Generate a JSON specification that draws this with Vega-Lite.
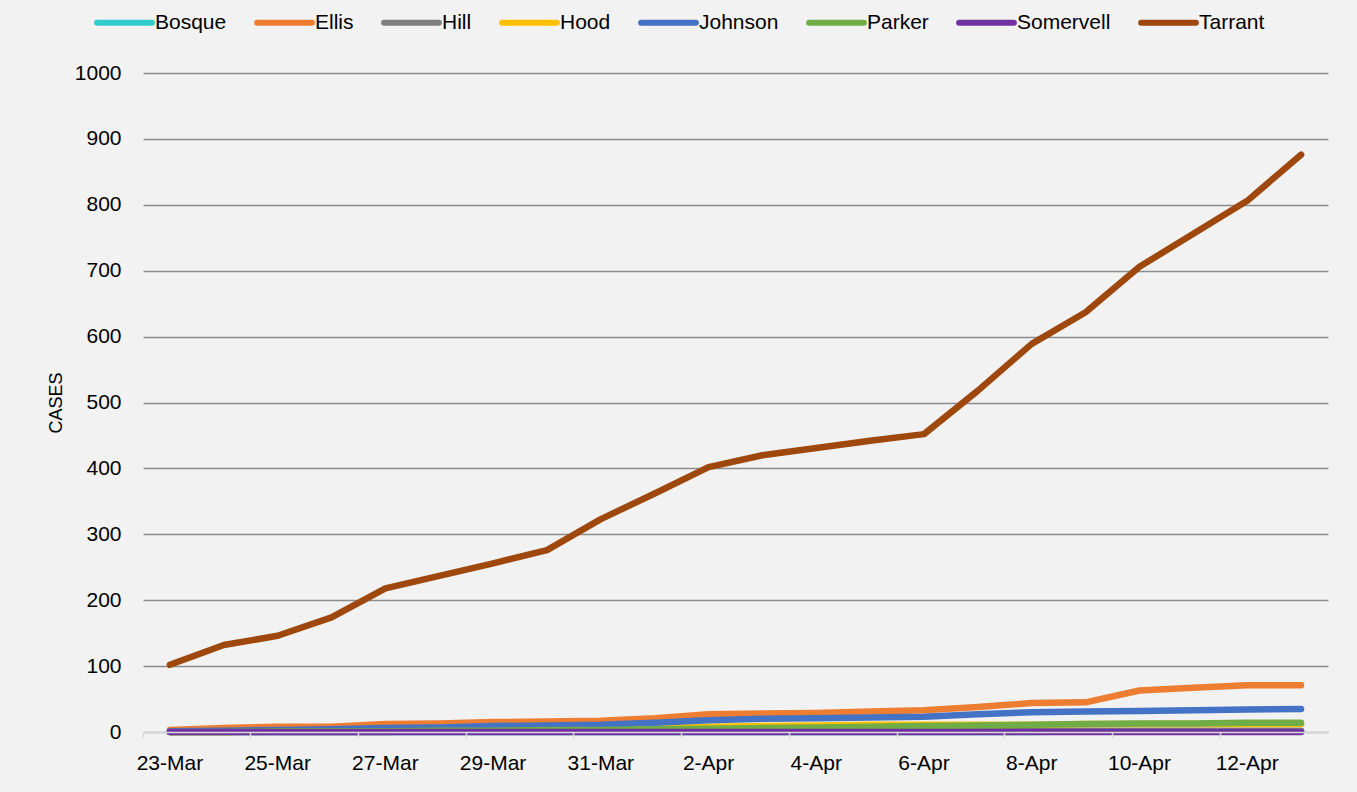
{
  "$schema": "https://vega.github.io/schema/vega-lite/v6.json",
  "autosize": "none",
  "width": 1185,
  "height": 659,
  "padding": {"left": 143, "top": 73, "right": 29, "bottom": 60},
  "background": "#f2f2f2",
  "config": {
    "view": {"stroke": null},
    "font": "Liberation Sans",
    "axis": {"labelFont": "Liberation Sans", "titleFont": "Liberation Sans", "labelColor": "#000000", "titleColor": "#000000"},
    "legend": {"labelFont": "Liberation Sans"}
  },
  "data": {
    "values": [
      {"d":"23-Mar","c":"Bosque","v":0},{"d":"24-Mar","c":"Bosque","v":0},{"d":"25-Mar","c":"Bosque","v":0},{"d":"26-Mar","c":"Bosque","v":0},{"d":"27-Mar","c":"Bosque","v":0},{"d":"28-Mar","c":"Bosque","v":0},{"d":"29-Mar","c":"Bosque","v":0},{"d":"30-Mar","c":"Bosque","v":0},{"d":"31-Mar","c":"Bosque","v":0},{"d":"1-Apr","c":"Bosque","v":0},{"d":"2-Apr","c":"Bosque","v":0},{"d":"3-Apr","c":"Bosque","v":0},{"d":"4-Apr","c":"Bosque","v":0},{"d":"5-Apr","c":"Bosque","v":0},{"d":"6-Apr","c":"Bosque","v":0},{"d":"7-Apr","c":"Bosque","v":0},{"d":"8-Apr","c":"Bosque","v":0},{"d":"9-Apr","c":"Bosque","v":1},{"d":"10-Apr","c":"Bosque","v":1},{"d":"11-Apr","c":"Bosque","v":1},{"d":"12-Apr","c":"Bosque","v":1},{"d":"13-Apr","c":"Bosque","v":1},
      {"d":"23-Mar","c":"Ellis","v":3},{"d":"24-Mar","c":"Ellis","v":6},{"d":"25-Mar","c":"Ellis","v":8},{"d":"26-Mar","c":"Ellis","v":8},{"d":"27-Mar","c":"Ellis","v":12},{"d":"28-Mar","c":"Ellis","v":13},{"d":"29-Mar","c":"Ellis","v":15},{"d":"30-Mar","c":"Ellis","v":16},{"d":"31-Mar","c":"Ellis","v":17},{"d":"1-Apr","c":"Ellis","v":21},{"d":"2-Apr","c":"Ellis","v":27},{"d":"3-Apr","c":"Ellis","v":28},{"d":"4-Apr","c":"Ellis","v":29},{"d":"5-Apr","c":"Ellis","v":31},{"d":"6-Apr","c":"Ellis","v":33},{"d":"7-Apr","c":"Ellis","v":38},{"d":"8-Apr","c":"Ellis","v":44},{"d":"9-Apr","c":"Ellis","v":45},{"d":"10-Apr","c":"Ellis","v":63},{"d":"11-Apr","c":"Ellis","v":67},{"d":"12-Apr","c":"Ellis","v":71},{"d":"13-Apr","c":"Ellis","v":71},
      {"d":"23-Mar","c":"Hill","v":0},{"d":"24-Mar","c":"Hill","v":0},{"d":"25-Mar","c":"Hill","v":0},{"d":"26-Mar","c":"Hill","v":0},{"d":"27-Mar","c":"Hill","v":0},{"d":"28-Mar","c":"Hill","v":1},{"d":"29-Mar","c":"Hill","v":1},{"d":"30-Mar","c":"Hill","v":1},{"d":"31-Mar","c":"Hill","v":1},{"d":"1-Apr","c":"Hill","v":1},{"d":"2-Apr","c":"Hill","v":1},{"d":"3-Apr","c":"Hill","v":1},{"d":"4-Apr","c":"Hill","v":1},{"d":"5-Apr","c":"Hill","v":1},{"d":"6-Apr","c":"Hill","v":1},{"d":"7-Apr","c":"Hill","v":1},{"d":"8-Apr","c":"Hill","v":2},{"d":"9-Apr","c":"Hill","v":2},{"d":"10-Apr","c":"Hill","v":2},{"d":"11-Apr","c":"Hill","v":2},{"d":"12-Apr","c":"Hill","v":2},{"d":"13-Apr","c":"Hill","v":2},
      {"d":"23-Mar","c":"Hood","v":0},{"d":"24-Mar","c":"Hood","v":0},{"d":"25-Mar","c":"Hood","v":1},{"d":"26-Mar","c":"Hood","v":1},{"d":"27-Mar","c":"Hood","v":2},{"d":"28-Mar","c":"Hood","v":3},{"d":"29-Mar","c":"Hood","v":3},{"d":"30-Mar","c":"Hood","v":4},{"d":"31-Mar","c":"Hood","v":5},{"d":"1-Apr","c":"Hood","v":6},{"d":"2-Apr","c":"Hood","v":8},{"d":"3-Apr","c":"Hood","v":9},{"d":"4-Apr","c":"Hood","v":10},{"d":"5-Apr","c":"Hood","v":11},{"d":"6-Apr","c":"Hood","v":11},{"d":"7-Apr","c":"Hood","v":11},{"d":"8-Apr","c":"Hood","v":11},{"d":"9-Apr","c":"Hood","v":12},{"d":"10-Apr","c":"Hood","v":12},{"d":"11-Apr","c":"Hood","v":12},{"d":"12-Apr","c":"Hood","v":12},{"d":"13-Apr","c":"Hood","v":12},
      {"d":"23-Mar","c":"Johnson","v":1},{"d":"24-Mar","c":"Johnson","v":2},{"d":"25-Mar","c":"Johnson","v":3},{"d":"26-Mar","c":"Johnson","v":4},{"d":"27-Mar","c":"Johnson","v":6},{"d":"28-Mar","c":"Johnson","v":7},{"d":"29-Mar","c":"Johnson","v":9},{"d":"30-Mar","c":"Johnson","v":10},{"d":"31-Mar","c":"Johnson","v":11},{"d":"1-Apr","c":"Johnson","v":14},{"d":"2-Apr","c":"Johnson","v":18},{"d":"3-Apr","c":"Johnson","v":20},{"d":"4-Apr","c":"Johnson","v":21},{"d":"5-Apr","c":"Johnson","v":22},{"d":"6-Apr","c":"Johnson","v":23},{"d":"7-Apr","c":"Johnson","v":27},{"d":"8-Apr","c":"Johnson","v":30},{"d":"9-Apr","c":"Johnson","v":31},{"d":"10-Apr","c":"Johnson","v":32},{"d":"11-Apr","c":"Johnson","v":33},{"d":"12-Apr","c":"Johnson","v":34},{"d":"13-Apr","c":"Johnson","v":35},
      {"d":"23-Mar","c":"Parker","v":0},{"d":"24-Mar","c":"Parker","v":0},{"d":"25-Mar","c":"Parker","v":1},{"d":"26-Mar","c":"Parker","v":1},{"d":"27-Mar","c":"Parker","v":1},{"d":"28-Mar","c":"Parker","v":2},{"d":"29-Mar","c":"Parker","v":2},{"d":"30-Mar","c":"Parker","v":3},{"d":"31-Mar","c":"Parker","v":3},{"d":"1-Apr","c":"Parker","v":4},{"d":"2-Apr","c":"Parker","v":5},{"d":"3-Apr","c":"Parker","v":6},{"d":"4-Apr","c":"Parker","v":7},{"d":"5-Apr","c":"Parker","v":8},{"d":"6-Apr","c":"Parker","v":9},{"d":"7-Apr","c":"Parker","v":10},{"d":"8-Apr","c":"Parker","v":11},{"d":"9-Apr","c":"Parker","v":12},{"d":"10-Apr","c":"Parker","v":13},{"d":"11-Apr","c":"Parker","v":13},{"d":"12-Apr","c":"Parker","v":14},{"d":"13-Apr","c":"Parker","v":14},
      {"d":"23-Mar","c":"Somervell","v":0},{"d":"24-Mar","c":"Somervell","v":0},{"d":"25-Mar","c":"Somervell","v":0},{"d":"26-Mar","c":"Somervell","v":0},{"d":"27-Mar","c":"Somervell","v":0},{"d":"28-Mar","c":"Somervell","v":0},{"d":"29-Mar","c":"Somervell","v":0},{"d":"30-Mar","c":"Somervell","v":0},{"d":"31-Mar","c":"Somervell","v":0},{"d":"1-Apr","c":"Somervell","v":0},{"d":"2-Apr","c":"Somervell","v":0},{"d":"3-Apr","c":"Somervell","v":0},{"d":"4-Apr","c":"Somervell","v":0},{"d":"5-Apr","c":"Somervell","v":0},{"d":"6-Apr","c":"Somervell","v":0},{"d":"7-Apr","c":"Somervell","v":0},{"d":"8-Apr","c":"Somervell","v":0},{"d":"9-Apr","c":"Somervell","v":0},{"d":"10-Apr","c":"Somervell","v":0},{"d":"11-Apr","c":"Somervell","v":0},{"d":"12-Apr","c":"Somervell","v":0},{"d":"13-Apr","c":"Somervell","v":0},
      {"d":"23-Mar","c":"Tarrant","v":102},{"d":"24-Mar","c":"Tarrant","v":132},{"d":"25-Mar","c":"Tarrant","v":146},{"d":"26-Mar","c":"Tarrant","v":174},{"d":"27-Mar","c":"Tarrant","v":218},{"d":"28-Mar","c":"Tarrant","v":237},{"d":"29-Mar","c":"Tarrant","v":256},{"d":"30-Mar","c":"Tarrant","v":276},{"d":"31-Mar","c":"Tarrant","v":323},{"d":"1-Apr","c":"Tarrant","v":362},{"d":"2-Apr","c":"Tarrant","v":402},{"d":"3-Apr","c":"Tarrant","v":420},{"d":"4-Apr","c":"Tarrant","v":431},{"d":"5-Apr","c":"Tarrant","v":442},{"d":"6-Apr","c":"Tarrant","v":452},{"d":"7-Apr","c":"Tarrant","v":518},{"d":"8-Apr","c":"Tarrant","v":589},{"d":"9-Apr","c":"Tarrant","v":637},{"d":"10-Apr","c":"Tarrant","v":706},{"d":"11-Apr","c":"Tarrant","v":756},{"d":"12-Apr","c":"Tarrant","v":806},{"d":"13-Apr","c":"Tarrant","v":876}
    ]
  },
  "mark": {"type": "line", "strokeWidth": 6.5, "strokeCap": "round", "strokeJoin": "round"},
  "encoding": {
    "x": {
      "field": "d",
      "type": "ordinal",
      "sort": null,
      "scale": {"type": "band", "paddingInner": 0, "paddingOuter": 0},
      "axis": {
        "title": null,
        "values": ["23-Mar","25-Mar","27-Mar","29-Mar","31-Mar","2-Apr","4-Apr","6-Apr","8-Apr","10-Apr","12-Apr"],
        "labelAngle": 0,
        "labelFontSize": 21,
        "labelPadding": 14,
        "bandPosition": 0,
        "ticks": true,
        "tickSize": 6,
        "tickColor": "#d9d9d9",
        "tickWidth": 1.5,
        "domainColor": "#d9d9d9",
        "domainWidth": 1.5,
        "grid": false,
        "zindex": 1
      }
    },
    "y": {
      "field": "v",
      "type": "quantitative",
      "scale": {"domain": [0, 1000]},
      "axis": {
        "title": "CASES",
        "titleFontSize": 18,
        "titleFontWeight": "normal",
        "titlePadding": 9,
        "values": [0,100,200,300,400,500,600,700,800,900,1000],
        "format": "d",
        "labelFontSize": 21,
        "labelPadding": 22,
        "ticks": false,
        "domain": false,
        "grid": true,
        "gridColor": "#8c8c8c",
        "gridWidth": 1.5
      }
    },
    "color": {
      "field": "c",
      "type": "nominal",
      "scale": {
        "domain": ["Bosque","Ellis","Hill","Hood","Johnson","Parker","Somervell","Tarrant"],
        "range": ["#33cccc","#ed7d31","#7f7f7f","#ffc000","#4472c4","#70ad47","#7030a0","#9e480e"]
      },
      "legend": {
        "title": null,
        "orient": "none",
        "direction": "horizontal",
        "legendX": -49,
        "legendY": -81,
        "symbolType": "stroke",
        "symbolSize": 3000,
        "symbolStrokeWidth": 6,
        "labelFontSize": 21,
        "labelOffset": 0,
        "columnPadding": 18,
        "labelColor": "#000000",
        "symbolOpacity": 1,
        "encode": {"symbols": {"update": {"strokeCap": {"value": "round"}}}}
      }
    }
  }
}
